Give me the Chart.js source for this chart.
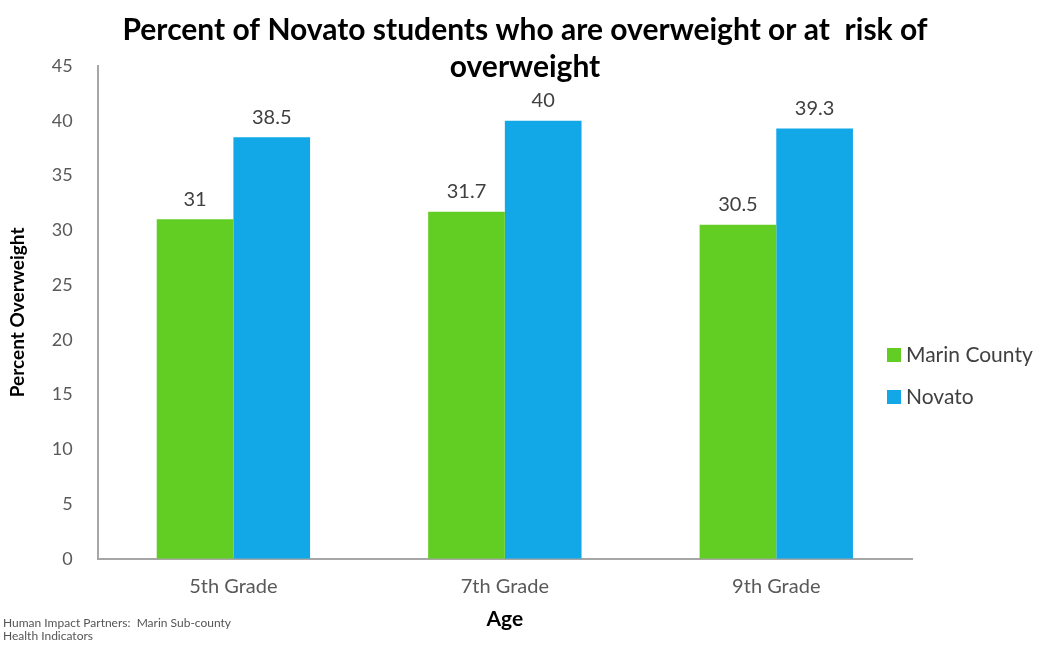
<!DOCTYPE html>
<html>
<head>
<meta charset="utf-8">
<script src="https://cdn.jsdelivr.net/npm/chart.js@4.4.0/dist/chart.umd.min.js"></script>
<style>
html, body { margin: 0; padding: 0; background: #fff; }
#wrap { width: 1037px; height: 648px; position: relative; }
</style>
</head>
<body>
<div id="wrap"><canvas id="mycanvas"></canvas></div>
<script>
var grades = ["5th Grade", "7th Grade", "9th Grade"];
var marin = [31, 31.7, 30.5];
var novato = [38.5, 40, 39.3];
var titleLines = ["Percent of Novato students who are overweight or at  risk of", "overweight"];
var sourceLines = ["Human Impact Partners:  Marin Sub-county", "Health Indicators"];

var green = "#62CD23";
var blue = "#12A8E8";
var textGray = "#595959";

// title, value labels, legend and source note
var extras = {
	id: "extras",
	afterDatasetsDraw: function(chart) {
		var ctx = chart.ctx;
		ctx.save();
		// values above bars
		ctx.font = "20px Lato";
		ctx.fillStyle = "#404040";
		ctx.textAlign = "center";
		ctx.textBaseline = "middle";
		chart.data.datasets.forEach(function(ds, i) {
			chart.getDatasetMeta(i).data.forEach(function(bar, j) {
				ctx.fillText(String(ds.data[j]), bar.x, bar.y - 20);
			});
		});
		// title
		ctx.font = "bold 30px Lato";
		ctx.fillStyle = "#000";
		ctx.fillText(titleLines[0], 525, 30);
		ctx.fillText(titleLines[1], 525, 67);
		// legend
		ctx.textAlign = "left";
		ctx.font = "21px Lato";
		chart.data.datasets.forEach(function(ds, i) {
			var y = 355 + i * 42;
			ctx.fillStyle = ds.backgroundColor;
			ctx.fillRect(887, y - 7, 14, 14);
			ctx.fillStyle = "#404040";
			ctx.fillText(ds.label, 906, y);
		});
		// source note
		ctx.font = "12px Lato";
		ctx.fillStyle = "#555";
		ctx.fillText(sourceLines[0], 3, 623);
		ctx.fillText(sourceLines[1], 3, 636);
		ctx.restore();
	}
};

var ctx = document.getElementById("mycanvas");
var barChart = new Chart(ctx, {
	type: "bar",
	data: {
		labels: grades,
		datasets: [
			{ label: "Marin County", data: marin, backgroundColor: green },
			{ label: "Novato", data: novato, backgroundColor: blue }
		]
	},
	options: {
		responsive: true,
		maintainAspectRatio: false,
		animation: false,
		categoryPercentage: 0.565,
		barPercentage: 1,
		layout: { padding: { top: 66, right: 125, left: 2, bottom: 12 } },
		plugins: {
			legend: { display: false },
			title: { display: false },
			tooltip: { enabled: false }
		},
		scales: {
			x: {
				grid: { display: false },
				border: { color: "#a6a6a6", width: 2 },
				ticks: { color: textGray, font: { family: "Lato", size: 20 }, padding: 8 },
				title: { display: true, text: "Age", color: "#000", font: { family: "Lato", size: 21, weight: "bold" }, padding: { top: 0 } }
			},
			y: {
				min: 0,
				max: 45,
				grid: { display: false },
				border: { color: "#a6a6a6", width: 2 },
				ticks: { stepSize: 5, color: textGray, font: { family: "Lato", size: 18 }, padding: 17 },
				title: { display: true, text: "Percent Overweight", color: "#000", font: { family: "Lato", size: 19, weight: "bold" }, padding: { bottom: 6 } }
			}
		}
	},
	plugins: [extras]
});
</script>
</body>
</html>
